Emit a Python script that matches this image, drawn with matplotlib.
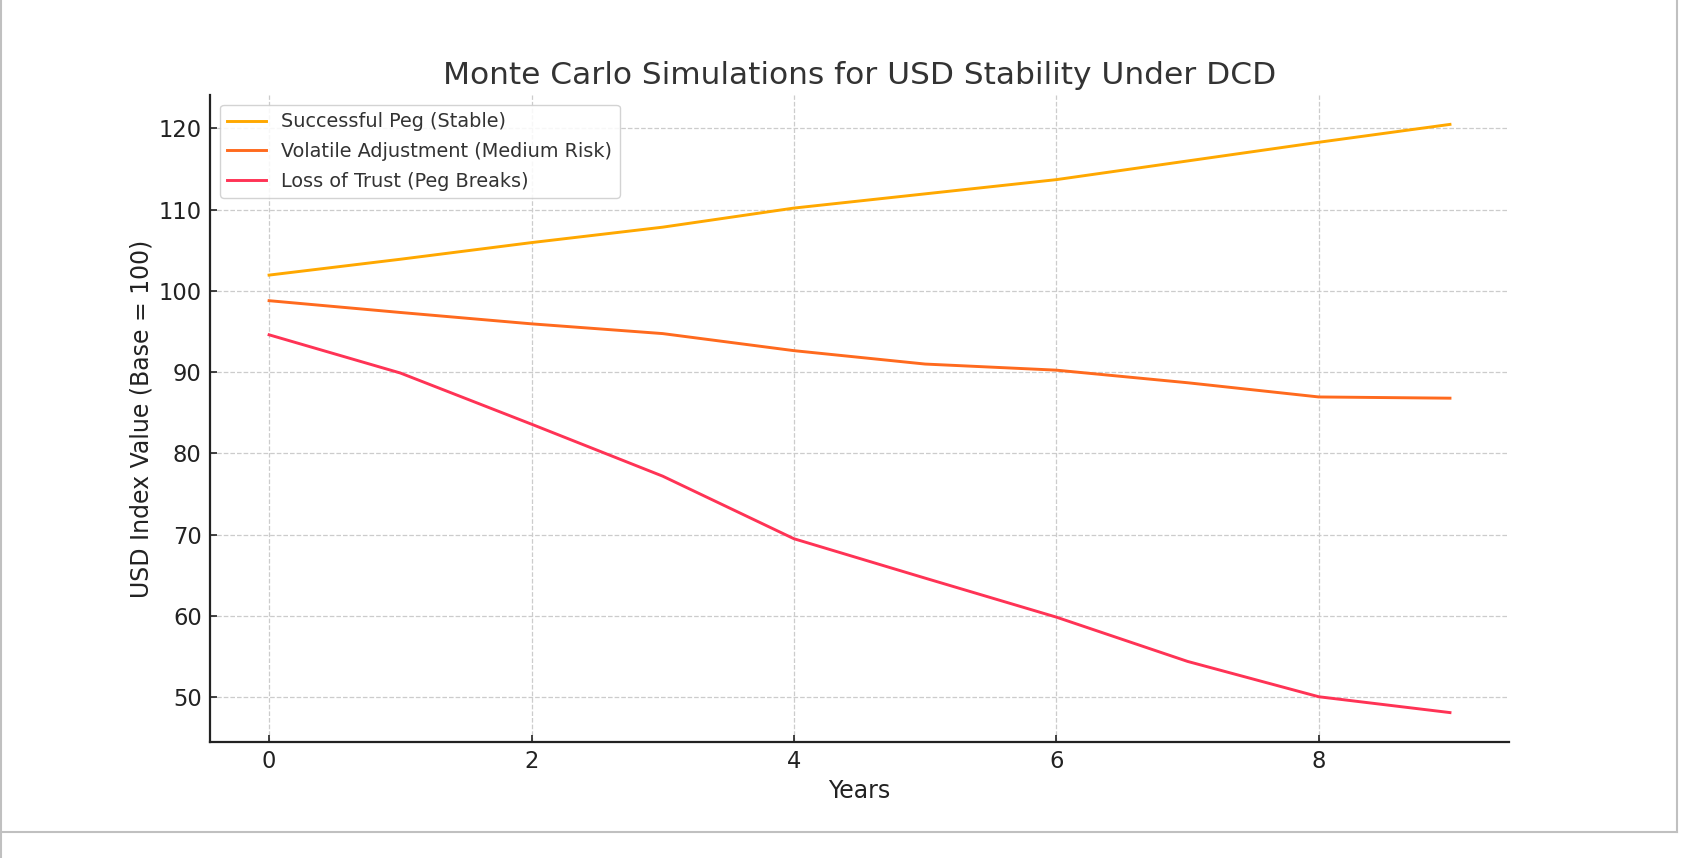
import matplotlib
matplotlib.use("Agg")
import matplotlib.pyplot as plt
from matplotlib.lines import Line2D

# Values
years = [0, 1, 2, 3, 4, 5, 6, 7, 8, 9]
stable = [101.95, 103.9, 105.95, 107.85, 110.2, 111.95, 113.7, 116.0, 118.3, 120.5]
volatile = [98.8, 97.35, 95.95, 94.75, 92.65, 91.0, 90.25, 88.7, 86.95, 86.8]
loss = [94.6, 89.9, 83.6, 77.2, 69.5, 64.65, 59.85, 54.4, 50.05, 48.1]

labels = ["Successful Peg (Stable)",
          "Volatile Adjustment (Medium Risk)",
          "Loss of Trust (Peg Breaks)"]
colors = ["#FFA800", "#FF6A1E", "#FF3355"]

plt.rcParams['font.family'] = 'DejaVu Sans'

fig = plt.figure(figsize=(16.98, 8.58), dpi=100)
ax = fig.add_axes([0.1237, 0.1352, 0.8887 - 0.1237, 0.8893 - 0.1352])

for series, lab, col in zip([stable, volatile, loss], labels, colors):
    ax.plot(years, series, color=col, linewidth=2.1, label=lab)

ax.set_title("Monte Carlo Simulations for USD Stability Under DCD",
             fontsize=22.5, color="#333333", pad=8)
ax.set_xlabel("Years", fontsize=17, color="#222222", labelpad=4)
ax.set_ylabel("USD Index Value (Base = 100)", fontsize=17, color="#222222", labelpad=4)

ax.set_xticks([0, 2, 4, 6, 8])
ax.set_yticks([50, 60, 70, 80, 90, 100, 110, 120])
ax.tick_params(direction="in", length=5, width=1.2, labelsize=16.3,
               colors="#222222", pad=6)

ax.grid(True, linestyle="--", color="#cccccc", linewidth=0.9)
ax.set_axisbelow(True)
for side in ["top", "right"]:
    ax.spines[side].set_visible(False)
for side in ["left", "bottom"]:
    ax.spines[side].set_color("#222222")
    ax.spines[side].set_linewidth(1.6)

leg = ax.legend(loc="upper left", fontsize=13.9, frameon=True, framealpha=0.85,
                edgecolor="#cccccc", borderaxespad=0.5, labelspacing=0.55)
for t in leg.get_texts():
    t.set_color("#333333")

# light gray frame around the picture, as in the screenshot
W, H = 1698, 858
frame = dict(color="#c0c0c0", linewidth=1.5, transform=fig.transFigure)
fig.add_artist(Line2D([1 / W, 1 / W], [0, 1], **frame))
fig.add_artist(Line2D([1677 / W, 1677 / W], [1 - 832 / H, 1], **frame))
fig.add_artist(Line2D([1 / W, 1677 / W], [1 - 832 / H, 1 - 832 / H], **frame))

fig.savefig("out.png", dpi=100)
